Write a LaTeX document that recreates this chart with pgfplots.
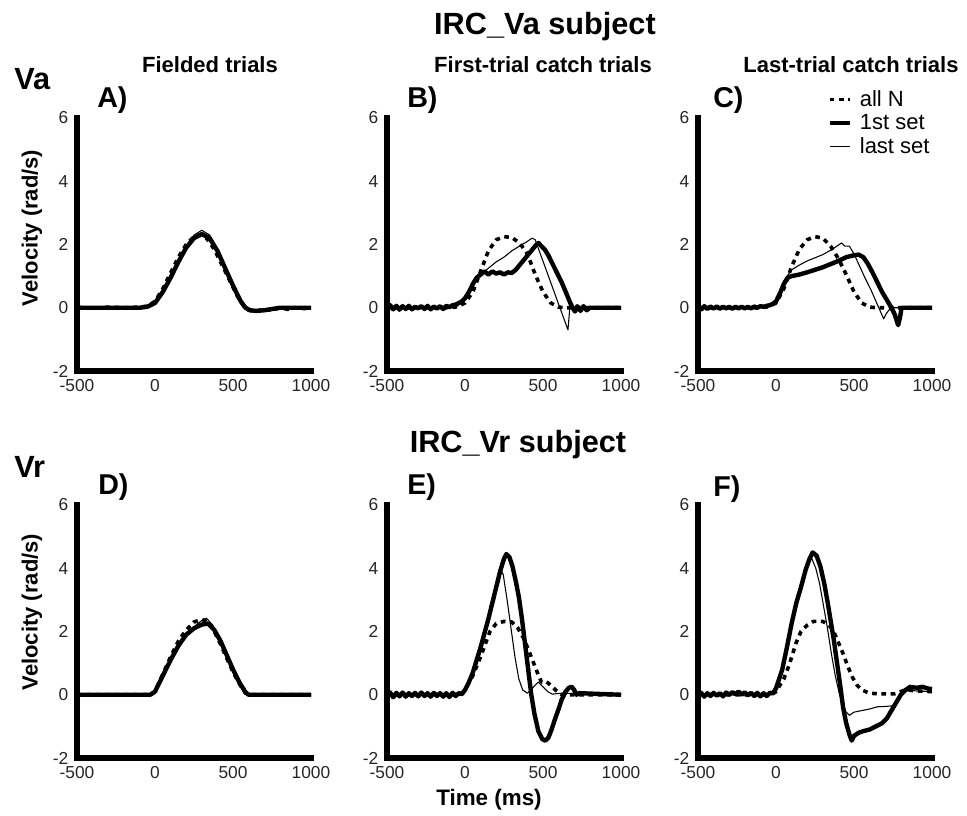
\documentclass[border=0pt]{standalone}
\usepackage{fontspec}
\setmainfont{Liberation Sans}
\usepackage{pgfplots}
\pgfplotsset{compat=1.18}
\tikzset{axframe/.style={line width=4pt, black, line cap=rect, line join=miter}}
\pgfplotsset{
  panel/.style={scale only axis, width=175.5pt, height=189.75pt,
    xmin=-500, xmax=1000, ymin=-2, ymax=6,
    axis x line*=bottom, axis y line*=left,
    axis line style={line width=4pt,black},
    major tick length=0pt, tick style={draw=none},
    xtick={-500,0,500,1000}, xticklabels={-500,0,500,1000},
    ytick={-2,0,2,4,6}, yticklabels={-2,0,2,4,6},
    ticklabel style={font=\fontsize{13}{15}\selectfont, text=black!85},
    xticklabel style={yshift=-3pt}, yticklabel style={xshift=-3pt},
    clip=false, anchor=south west},
  allN/.style={black, line width=2.7pt, dash pattern=on 3.5pt off 3.5pt, line join=round},
  first/.style={black, line width=3.3pt, line join=round},
  last/.style={black, line width=0.8pt, line join=round},
}
\begin{document}
\begin{tikzpicture}
\path[use as bounding box] (0pt,0pt) rectangle (725.25pt,-612pt);
% ---------------- A ----------------
\begin{axis}[panel, at={(57.75pt,-278.25pt)}]
\draw[axframe] (rel axis cs:0,1) -- (rel axis cs:0,0) -- (rel axis cs:1,0);
\addplot[allN] coordinates {(-500,0.02)(-400,-0.02)(-300,0.02)(-200,0)(-100,0.02)(-50,0.05)(0,0.2)(50,0.6)(100,1.1)(150,1.6)(200,2.0)(250,2.25)(290,2.3)(330,2.2)(380,1.85)(430,1.35)(480,0.85)(530,0.35)(570,0.05)(600,-0.08)(650,-0.1)(700,-0.05)(750,-0.08)(800,0)(850,-0.05)(900,0)(950,-0.03)(1000,0)};
\addplot[first] coordinates {(-500,0)(-100,0)(-50,0.03)(0,0.15)(50,0.5)(100,0.95)(150,1.45)(200,1.9)(250,2.2)(300,2.33)(350,2.2)(400,1.8)(450,1.25)(500,0.7)(550,0.2)(580,0)(610,-0.08)(650,-0.1)(700,-0.08)(750,-0.04)(800,0)(1000,0)};
\addplot[last] coordinates {(-500,0)(-100,0)(-50,0.03)(0,0.15)(50,0.5)(100,1.0)(150,1.5)(200,1.95)(250,2.3)(300,2.45)(350,2.3)(400,1.85)(450,1.3)(500,0.75)(550,0.25)(580,0.02)(620,-0.08)(700,-0.06)(800,0)(1000,0)};
\end{axis}
% ---------------- B ----------------
\begin{axis}[panel, at={(290.25pt,-278.25pt)}]
\draw[axframe] (rel axis cs:0,1) -- (rel axis cs:0,0) -- (rel axis cs:1,0);
\addplot[allN] coordinates {(-500,0)(-100,0)(-50,0.03)(0,0.15)(50,0.5)(100,1.15)(150,1.8)(200,2.15)(250,2.25)(300,2.22)(350,2.05)(400,1.7)(450,1.05)(500,0.5)(550,0.15)(600,0.02)(650,0)(1000,0)};
\addplot[first] coordinates {(-500,0)(-480,0.08)(-460,-0.05)(-440,0.06)(-420,-0.06)(-400,0.05)(-380,-0.04)(-360,0.06)(-340,-0.05)(-320,0.03)(-300,-0.02)(-280,0.05)(-260,-0.04)(-240,0.06)(-220,-0.05)(-200,0.04)(-180,-0.03)(-160,0.05)(-140,-0.04)(-120,0.06)(-100,0.02)(-80,0.08)(-60,0.1)(-40,0.15)(-20,0.2)(0,0.3)(25,0.5)(50,0.75)(75,0.95)(100,1.05)(125,1.15)(150,1.05)(175,1.15)(200,1.08)(225,1.12)(250,1.05)(275,1.12)(300,1.1)(325,1.2)(350,1.35)(375,1.5)(400,1.65)(425,1.8)(450,1.95)(470,2.05)(490,1.95)(510,1.85)(535,1.65)(560,1.4)(590,1.1)(620,0.8)(650,0.45)(675,0.15)(690,0.0)(705,-0.12)(720,0.05)(740,-0.1)(760,0.05)(780,-0.08)(800,0)(1000,0)};
\addplot[last] coordinates {(-500,0)(-100,0)(-50,0.05)(0,0.25)(50,0.7)(100,1.05)(150,1.25)(200,1.45)(250,1.6)(300,1.8)(350,1.95)(400,2.1)(430,2.2)(450,2.15)(660,-0.7)(672,0)(700,0)(1000,0)};
\end{axis}
% ---------------- C ----------------
\begin{axis}[panel, at={(523.5pt,-278.25pt)},
  legend image code/.code={\draw[#1] (0pt,0pt) -- (15pt,0pt);},
  legend style={draw=none, fill=none, at={(0.535,1.125)}, anchor=north west,
    font=\fontsize{16.5}{18}\selectfont, legend cell align=left,
    nodes={inner sep=1pt}, row sep=2.5pt,
    /tikz/every odd column/.append style={column sep=5pt}}]
\draw[axframe] (rel axis cs:0,1) -- (rel axis cs:0,0) -- (rel axis cs:1,0);
\addplot[allN] coordinates {(-500,0)(-100,0)(-50,0.03)(0,0.15)(50,0.6)(100,1.3)(150,1.85)(200,2.15)(250,2.25)(300,2.2)(350,1.95)(400,1.55)(450,1.05)(500,0.5)(550,0.15)(600,0.02)(650,0)(1000,0)};
\addlegendentry{all N}
\addplot[first] coordinates {(-500,0)(-480,-0.06)(-460,0.05)(-440,-0.04)(-420,0.04)(-400,-0.03)(-380,0.04)(-360,-0.03)(-340,0.03)(-320,-0.02)(-300,0.03)(-280,-0.03)(-260,0.03)(-240,-0.02)(-220,0.03)(-200,-0.02)(-180,0.03)(-160,-0.02)(-140,0.04)(-120,0.0)(-100,0.05)(-80,0.03)(-60,0.06)(-40,0.08)(-20,0.12)(0,0.2)(25,0.45)(50,0.75)(75,0.95)(100,1.0)(150,1.05)(200,1.12)(250,1.2)(300,1.28)(350,1.38)(400,1.48)(450,1.6)(500,1.66)(530,1.68)(560,1.6)(590,1.38)(620,1.1)(650,0.8)(680,0.5)(710,0.25)(740,0.0)(760,-0.2)(783,-0.55)(795,-0.3)(805,0)(1000,0)};
\addlegendentry{1st set}
\addplot[last] coordinates {(-500,0)(-100,0)(-50,0.05)(0,0.25)(50,0.85)(100,1.2)(150,1.35)(200,1.48)(250,1.58)(300,1.68)(350,1.82)(400,1.98)(420,2.05)(440,1.95)(470,1.95)(500,1.7)(530,1.38)(570,0.95)(610,0.55)(650,0.1)(690,-0.35)(705,-0.2)(720,-0.1)(740,0)(1000,0)};
\addlegendentry{last set}
\end{axis}
% ---------------- D ----------------
\begin{axis}[panel, at={(57.75pt,-568.5pt)}]
\draw[axframe] (rel axis cs:0,1) -- (rel axis cs:0,0) -- (rel axis cs:1,0);
\addplot[allN] coordinates {(-500,0)(-30,0)(0,0.1)(50,0.65)(100,1.2)(150,1.7)(200,2.05)(250,2.3)(300,2.38)(340,2.3)(380,2.0)(420,1.6)(460,1.15)(500,0.72)(540,0.35)(580,0.05)(620,0)(1000,0)};
\addplot[first] coordinates {(-500,0)(-100,0)(-30,0)(0,0.1)(50,0.6)(100,1.1)(150,1.55)(200,1.9)(250,2.1)(300,2.22)(340,2.25)(380,2.05)(420,1.7)(460,1.25)(500,0.8)(540,0.4)(580,0.08)(600,0)(1000,0)};
\addplot[last] coordinates {(-500,0)(-30,0)(0,0.1)(50,0.6)(100,1.1)(150,1.55)(200,1.9)(250,2.15)(300,2.35)(330,2.42)(370,2.2)(420,1.75)(460,1.3)(500,0.85)(540,0.42)(580,0.08)(600,0)(1000,0)};
\end{axis}
% ---------------- E ----------------
\begin{axis}[panel, at={(290.25pt,-568.5pt)}]
\draw[axframe] (rel axis cs:0,1) -- (rel axis cs:0,0) -- (rel axis cs:1,0);
\addplot[allN] coordinates {(-500,0)(-30,0)(0,0.15)(50,0.6)(100,1.2)(130,1.6)(160,2.0)(200,2.25)(250,2.32)(300,2.3)(340,2.1)(380,1.75)(420,1.25)(460,0.75)(490,0.4)(520,0.42)(550,0.3)(580,0.15)(620,0)(1000,0)};
\addplot[first] coordinates {(-500,0)(-480,0.07)(-460,-0.08)(-440,0.06)(-420,-0.05)(-400,0.07)(-380,-0.06)(-360,0.05)(-340,-0.04)(-320,0.06)(-300,-0.05)(-280,0.07)(-260,-0.04)(-240,0.05)(-220,-0.06)(-200,0.06)(-180,-0.04)(-160,0.05)(-140,-0.06)(-120,0.05)(-100,-0.07)(-80,0.06)(-60,-0.04)(-40,0.05)(-20,0.02)(0,0.15)(25,0.4)(50,0.7)(75,1.1)(100,1.5)(125,1.95)(150,2.4)(175,2.9)(200,3.4)(225,3.9)(250,4.3)(265,4.45)(285,4.35)(305,4.05)(325,3.6)(345,3.1)(365,2.4)(385,1.6)(405,0.8)(425,0.0)(445,-0.6)(470,-1.15)(495,-1.4)(515,-1.45)(535,-1.35)(555,-1.1)(575,-0.8)(600,-0.45)(620,-0.15)(645,0.1)(665,0.22)(685,0.25)(700,0.15)(715,0.0)(730,0.05)(1000,0)};
\addplot[last] coordinates {(-500,0)(-30,0)(0,0.15)(50,0.7)(100,1.5)(150,2.4)(200,3.35)(230,3.95)(245,3.8)(270,3.0)(295,2.1)(320,1.2)(345,0.5)(370,0.15)(400,0.05)(430,0.2)(470,0.4)(500,0.25)(530,0.1)(560,0.02)(620,0.05)(1000,0)};
\end{axis}
% ---------------- F ----------------
\begin{axis}[panel, at={(523.5pt,-568.5pt)}]
\draw[axframe] (rel axis cs:0,1) -- (rel axis cs:0,0) -- (rel axis cs:1,0);
\addplot[allN] coordinates {(-500,0)(-30,0)(0,0.1)(50,0.5)(85,0.95)(128,1.63)(160,2.0)(200,2.2)(240,2.32)(300,2.32)(340,2.2)(370,2.0)(400,1.65)(430,1.3)(460,0.9)(490,0.55)(520,0.3)(550,0.15)(600,0.05)(650,0.03)(700,0.03)(760,0.03)(800,0.1)(830,0.16)(900,0.12)(1000,0.1)};
\addplot[first] coordinates {(-500,-0.05)(-480,0.06)(-460,-0.06)(-440,0.05)(-420,-0.04)(-400,0.06)(-380,-0.03)(-360,0.05)(-340,-0.05)(-320,0.07)(-300,0.0)(-280,0.08)(-260,0.02)(-240,0.1)(-220,0.0)(-200,0.08)(-180,-0.02)(-160,0.06)(-140,-0.04)(-120,0.06)(-100,-0.05)(-80,0.05)(-60,-0.04)(-40,0.06)(-20,0.05)(0,0.2)(40,0.8)(70,1.5)(100,2.25)(130,2.9)(160,3.4)(190,3.95)(215,4.3)(235,4.5)(260,4.4)(285,4.05)(310,3.5)(330,2.95)(350,2.35)(370,1.75)(390,1.05)(410,0.35)(430,-0.4)(450,-0.9)(470,-1.25)(485,-1.45)(500,-1.3)(530,-1.2)(560,-1.15)(600,-1.1)(640,-1.0)(680,-0.9)(710,-0.75)(740,-0.5)(770,-0.25)(800,0.0)(830,0.15)(860,0.25)(900,0.22)(940,0.25)(970,0.2)(1000,0.18)};
\addplot[last] coordinates {(-500,0)(-30,0)(0,0.2)(40,0.8)(70,1.5)(100,2.25)(130,2.9)(160,3.4)(190,3.9)(215,4.25)(230,4.3)(255,4.0)(280,3.5)(305,2.8)(330,2.1)(355,1.3)(380,0.6)(405,0.05)(430,-0.35)(450,-0.55)(470,-0.65)(500,-0.55)(550,-0.5)(600,-0.45)(650,-0.38)(700,-0.37)(750,-0.35)(780,-0.2)(810,0.05)(850,0.15)(900,0.12)(1000,0.1)};
\end{axis}
% ---------------- texts ----------------
\begin{scope}[x=0.75pt, y=-0.75pt]
\node[anchor=base, font=\fontsize{23}{26}\selectfont\bfseries] at (545,35) {IRC\_Va subject};
\node[anchor=base, font=\fontsize{23}{26}\selectfont\bfseries] at (518,452) {IRC\_Vr subject};
\node[anchor=base, font=\fontsize{16.5}{19}\selectfont\bfseries] at (210,73) {Fielded trials};
\node[anchor=base, font=\fontsize{16.5}{19}\selectfont\bfseries] at (543,73) {First-trial catch trials};
\node[anchor=base, font=\fontsize{16.5}{19}\selectfont\bfseries] at (851,73) {Last-trial catch trials};
\node[anchor=base west, inner sep=0pt, font=\fontsize{23}{26}\selectfont\bfseries] at (14,90) {Va};
\node[anchor=base west, inner sep=0pt, font=\fontsize{23}{26}\selectfont\bfseries] at (14,477) {Vr};
\node[anchor=base west, inner sep=0pt, font=\fontsize{21.5}{24}\selectfont\bfseries] at (97,108) {A)};
\node[anchor=base west, inner sep=0pt, font=\fontsize{21.5}{24}\selectfont\bfseries] at (407,108) {B)};
\node[anchor=base west, inner sep=0pt, font=\fontsize{21.5}{24}\selectfont\bfseries] at (713,108) {C)};
\node[anchor=base west, inner sep=0pt, font=\fontsize{21.5}{24}\selectfont\bfseries] at (98,494) {D)};
\node[anchor=base west, inner sep=0pt, font=\fontsize{21.5}{24}\selectfont\bfseries] at (407,494) {E)};
\node[anchor=base west, inner sep=0pt, font=\fontsize{21.5}{24}\selectfont\bfseries] at (713,496) {F)};
\node[rotate=90, inner sep=0pt, font=\fontsize{16.5}{19}\selectfont\bfseries] at (32,228) {Velocity (rad/s)};
\node[rotate=90, inner sep=0pt, font=\fontsize{16.5}{19}\selectfont\bfseries] at (32,612) {Velocity (rad/s)};
\node[anchor=base, inner sep=0pt, font=\fontsize{16.8}{19}\selectfont\bfseries] at (489,805) {Time (ms)};
\end{scope}
\end{tikzpicture}
\end{document}
